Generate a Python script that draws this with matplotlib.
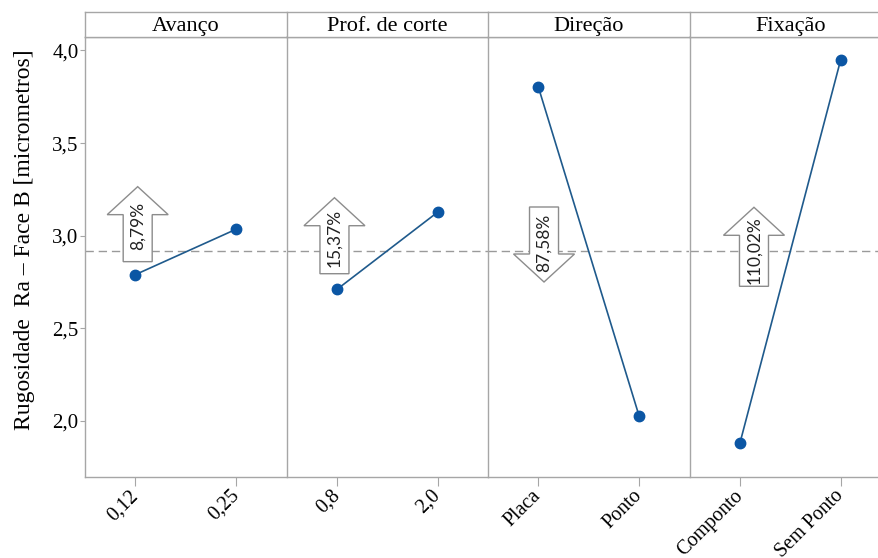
import numpy as np
import matplotlib
matplotlib.use("Agg")
import matplotlib.pyplot as plt
import matplotlib.transforms as mtransforms
from matplotlib.patches import Polygon
from matplotlib.ticker import FuncFormatter

# ---------------------------------------------------------------------------
# Main-effects data (mean roughness per factor level)
# ---------------------------------------------------------------------------
factors = ["Avanço", "Prof. de corte", "Direção", "Fixação"]
levels = [["0,12", "0,25"], ["0,8", "2,0"], ["Placa", "Ponto"], ["Componto", "Sem Ponto"]]
means = [[2.790, 3.035], [2.710, 3.127], [3.802, 2.027], [1.880, 3.948]]
effect_labels = ["8,79%", "15,37%", "87,58%", "110,02%"]

# arrow anchor (x in level units, y at the shaft end) and direction
arrow_x = [0.023, -0.024, 0.056, 0.14]
arrow_y = [2.860, 2.795, 3.155, 2.727]
arrow_dir = [1, 1, -1, 1]
arrow_shaft = [47, 48, 47, 51]

grand_mean = np.mean(means)

GRAY = "#a6a6a6"
LINE = "#1f5a8c"
DOT = "#0b56a4"

plt.rcParams["font.family"] = ["Liberation Serif", "DejaVu Serif"]

W, H = 879, 558
fig = plt.figure(figsize=(W / 100, H / 100), dpi=100)

px_left, px_w = 85, 201.5
y_bot, y_top, strip_top = 477, 36.5, 12


def draw_arrow(ax, x, y, direction, shaft, text):
    """Block arrow drawn in pixel units, anchored at the end of its shaft."""
    sw, hw, hl = 14.5, 30.5, 28
    d = direction
    verts = np.array([
        (-sw, 0), (-sw, shaft), (-hw, shaft), (0, shaft + hl),
        (hw, shaft), (sw, shaft), (sw, 0)], dtype=float)
    verts[:, 1] *= d
    trans = fig.dpi_scale_trans + mtransforms.ScaledTranslation(x, y, ax.transData)
    poly = Polygon(verts / 100.0, closed=True, transform=trans,
                   facecolor="white", edgecolor="#8c8c8c", lw=1.0, zorder=4)
    ax.add_patch(poly)
    ax.text(0, d * 36 / 100.0, text, transform=trans, rotation=90,
            ha="center", va="center", fontsize=12.5, color="#222222",
            family=["Lato", "DejaVu Sans"], zorder=5)


axes = []
for i, name in enumerate(factors):
    left = (px_left + i * px_w) / W
    ax = fig.add_axes([left, 1 - y_bot / H, px_w / W, (y_bot - y_top) / H])
    axes.append(ax)

    ax.axhline(grand_mean, color="#9a9a9a", lw=1.0, ls=(0, (6, 3.5)), zorder=1)
    ax.plot([0, 1], means[i], color=LINE, lw=1.2, zorder=2)
    ax.plot([0, 1], means[i], "o", color=DOT, ms=7.5, zorder=3)

    ax.set_xlim(-0.5, 1.5)
    ax.set_ylim(1.698, 4.075)
    ax.set_xticks([0, 1])
    ax.set_xticklabels(levels[i], rotation=45, ha="right", va="center",
                       rotation_mode="anchor", fontsize=14.5)
    ax.tick_params(axis="x", length=6.5, color=GRAY, pad=5)
    for sp in ax.spines.values():
        sp.set_color(GRAY)
        sp.set_linewidth(1.0)
    if i < 3:
        ax.spines["right"].set_visible(False)
    if i == 0:
        ax.set_yticks([2.0, 2.5, 3.0, 3.5, 4.0])
        ax.yaxis.set_major_formatter(FuncFormatter(lambda v, p: f"{v:.1f}".replace(".", ",")))
        ax.tick_params(axis="y", length=3.6, color=GRAY, labelsize=15, pad=1)
        ax.set_ylabel("Rugosidade  Ra – Face B [micrometros]", fontsize=17)
        ax.yaxis.set_label_coords(-0.25, 0.538)
    else:
        ax.set_yticks([])

    draw_arrow(ax, arrow_x[i], arrow_y[i], arrow_dir[i], arrow_shaft[i], effect_labels[i])

    # factor strip above the panel
    sax = fig.add_axes([left, 1 - y_top / H, px_w / W, (y_top - strip_top) / H])
    sax.set_xticks([])
    sax.set_yticks([])
    for sp in sax.spines.values():
        sp.set_color(GRAY)
        sp.set_linewidth(1.0)
    if i < 3:
        sax.spines["right"].set_visible(False)
    sax.text(0.5, 0.42, name, transform=sax.transAxes, ha="center", va="center",
             fontsize=16)

fig.savefig("out.png", dpi=100)
